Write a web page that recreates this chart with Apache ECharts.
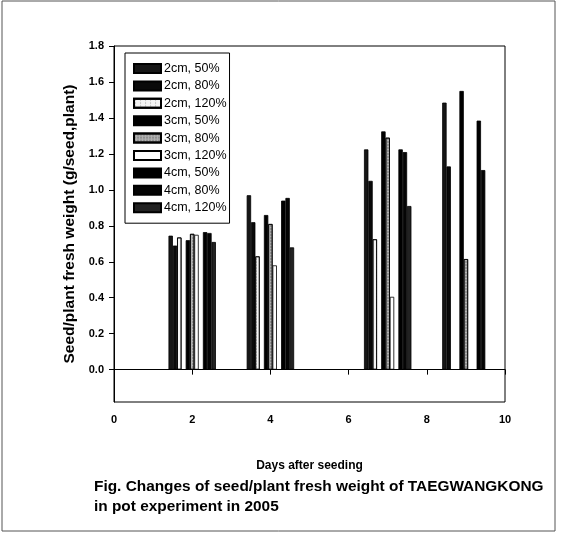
<!DOCTYPE html>
<html>
<head>
<meta charset="utf-8">
<script src="https://cdn.jsdelivr.net/npm/echarts@6/dist/echarts.min.js"></script>
<style>
html,body{margin:0;padding:0;background:#fff;}
#chart{width:566px;height:539px;}
</style>
</head>
<body>
<div id="chart"></div>
<script>
// ---- data ----
const days = [2, 4, 7, 9];
const seriesNames = ['2cm, 50%', '2cm, 80%', '2cm, 120%', '3cm, 50%', '3cm, 80%', '3cm, 120%', '4cm, 50%', '4cm, 80%', '4cm, 120%'];
const cm2_50  = [0.745, 0.97, 1.225, 1.485];
const cm2_80  = [0.69, 0.82, 1.05, 1.13];
const cm2_120 = [0.735, 0.63, 0.725, null];
const cm3_50  = [0.72, 0.86, 1.325, 1.55];
const cm3_80  = [0.755, 0.81, 1.29, 0.615];
const cm3_120 = [0.75, 0.58, 0.405, null];
const cm4_50  = [0.765, 0.94, 1.225, 1.385];
const cm4_80  = [0.76, 0.955, 1.21, 1.11];
const cm4_120 = [0.71, 0.68, 0.91, null];
const yTicks = [0, 0.2, 0.4, 0.6, 0.8, 1.0, 1.2, 1.4, 1.6, 1.8];
const xTicks = [0, 2, 4, 6, 8, 10];

const allValues = [cm2_50, cm2_80, cm2_120, cm3_50, cm3_80, cm3_120, cm4_50, cm4_80, cm4_120];

// ---- layout / style ----
const depthOffset = [-0.44, 0, 0.44];
const moistOffset = [-0.11, 0, 0.11];
const dotDecal = {symbol: 'circle', symbolSize: 0.5, dashArrayX: [[3, 2]], dashArrayY: [2, 1], color: '#777'};
const styles = [
  {color: '#161616'},
  {color: '#0a0a0a'},
  {color: '#f4f4f4', decal: dotDecal},
  {color: '#000000'},
  {color: '#b0b0b0', decal: {symbol: 'rect', symbolSize: 0.6, dashArrayX: [[2, 1]], dashArrayY: [2, 1], color: '#444'}},
  {color: '#ffffff'},
  {color: '#000000'},
  {color: '#050505'},
  {color: '#222222'}
];

const series = allValues.map((vals, k) => {
  const di = Math.floor(k / 3), mi = k % 3;
  const s = {
    name: seriesNames[k],
    type: 'bar',
    barWidth: 4.4,
    barGap: '-100%',
    itemStyle: Object.assign({borderColor: '#000', borderWidth: 0.8}, styles[k]),
    data: days.map((d, i) => [d + depthOffset[di] + moistOffset[mi], vals[i]])
  };
  if (k === 0) {
    s.markLine = {
      silent: true, symbol: 'none', animation: false,
      label: {show: false},
      lineStyle: {color: '#000', width: 1, type: 'solid'},
      data: [{yAxis: 0}]
    };
  }
  return s;
});

const chart = echarts.init(document.getElementById('chart'));
chart.setOption({
  animation: false,
  backgroundColor: '#fff',
  textStyle: {fontFamily: 'Liberation Sans, Arial, sans-serif'},
  grid: {left: 114, right: 61, top: 46, bottom: 137, show: true, borderColor: '#000', borderWidth: 1},
  legend: {
    orient: 'vertical', left: 125, top: 53,
    itemWidth: 27, itemHeight: 9, itemGap: 4.4,
    padding: [9, 3, 9, 8],
    borderColor: '#000', borderWidth: 1,
    selectedMode: false,
    icon: 'rect',
    textStyle: {fontSize: 12.5, color: '#000', fontFamily: 'Liberation Sans, Arial, sans-serif', padding: [0, 0, 0, -2]},
    data: seriesNames
  },
  xAxis: {
    type: 'value', min: 0, max: 10, interval: 2,
    name: 'Days after seeding', nameLocation: 'middle', nameGap: 58,
    nameTextStyle: {fontSize: 12, fontWeight: 'bold', color: '#000'},
    axisLine: {show: true, lineStyle: {color: '#000'}},
    axisTick: {show: true, length: 5, lineStyle: {color: '#000'}},
    axisLabel: {fontSize: 11, fontWeight: 'bold', color: '#000', margin: 12},
    splitLine: {show: false}
  },
  yAxis: {
    type: 'value', min: -0.18, max: 1.8,
    name: 'Seed/plant fresh weight (g/seed,plant)', nameLocation: 'middle', nameGap: 25,
    nameTextStyle: {fontSize: 15.5, fontWeight: 'bold', color: '#000'},
    axisLine: {show: true, lineStyle: {color: '#000'}},
    axisTick: {show: true, length: 5, lineStyle: {color: '#000'}, customValues: yTicks},
    axisLabel: {fontSize: 11, fontWeight: 'bold', color: '#000', margin: 10, customValues: yTicks,
      formatter: v => v.toFixed(1)},
    splitLine: {show: false}
  },
  graphic: [
    {type: 'rect', shape: {x: 2, y: 1, width: 553, height: 530}, style: {fill: 'none', stroke: '#555', lineWidth: 1}, silent: true},
    {type: 'text', left: 94, top: 479, style: {text: 'Fig. Changes of seed/plant fresh weight of TAEGWANGKONG', fontSize: 15.4, fontWeight: 'bold', fill: '#000', fontFamily: 'Liberation Sans, Arial, sans-serif'}},
    {type: 'text', left: 94, top: 499, style: {text: 'in pot experiment in 2005', fontSize: 15.4, fontWeight: 'bold', fill: '#000', fontFamily: 'Liberation Sans, Arial, sans-serif'}}
  ],
  series: series
});
</script>
</body>
</html>
